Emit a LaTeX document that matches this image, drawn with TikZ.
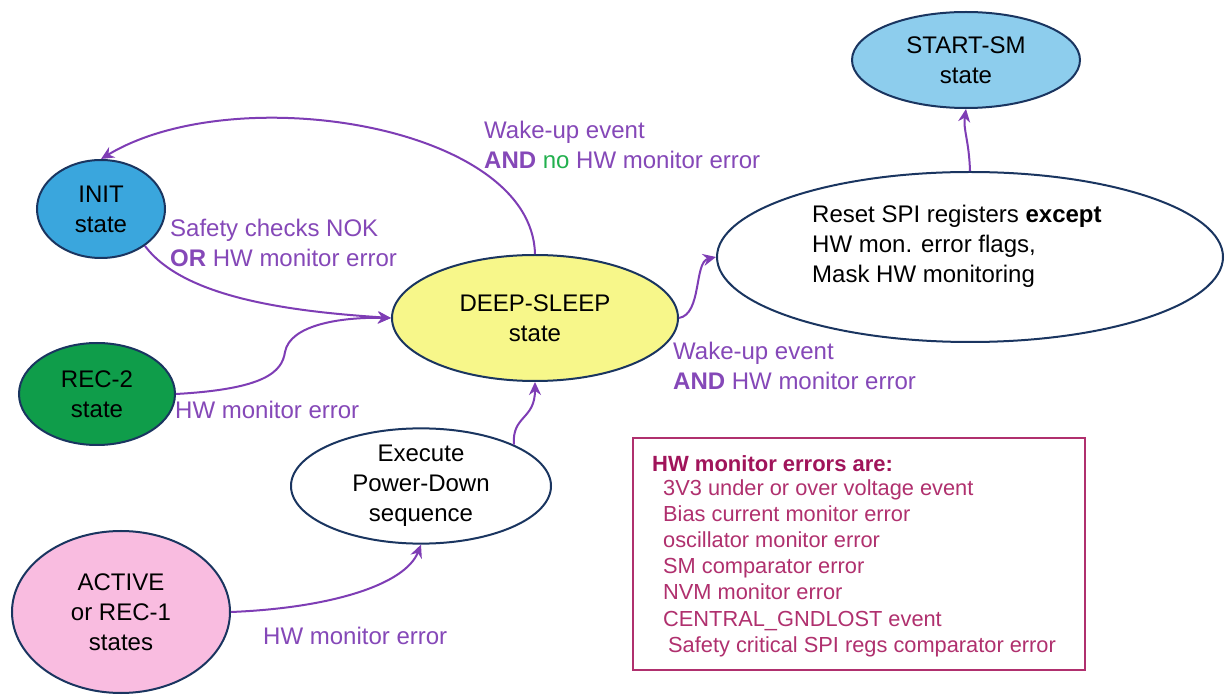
\documentclass[tikz,border=0pt]{standalone}
\usepackage{fontspec}
\setmainfont{Liberation Sans}
\usetikzlibrary{shapes.geometric,arrows.meta}
\definecolor{navy}{HTML}{1A3560}
\definecolor{purp}{HTML}{7E3DB5}
\definecolor{purptxt}{HTML}{8548B8}
\definecolor{grn}{HTML}{22B04E}
\definecolor{initblue}{HTML}{3AA6DD}
\definecolor{smblue}{HTML}{8DCDED}
\definecolor{dsyellow}{HTML}{F7F78A}
\definecolor{recgreen}{HTML}{0F9D4A}
\definecolor{actpink}{HTML}{F9BCE0}
\definecolor{boxmag}{HTML}{B0306E}
\definecolor{headmag}{HTML}{A0145A}
\tikzset{
  statenode/.style={ellipse, draw=navy, line width=2pt, inner sep=0pt, align=center,
     font=\fontsize{24}{30}\selectfont, text=black},
  trans/.style={draw=purp, line width=2pt, -{Stealth[length=13pt,width=12pt]}},
  lbl/.style={anchor=west, inner sep=0pt, align=left, text=purptxt,
     font=\fontsize{24}{30}\selectfont},
  boxtxt/.style={anchor=west, inner sep=0pt, align=left, text=boxmag,
     font=\fontsize{21.8}{26.2}\selectfont}
}
\begin{document}
\begin{tikzpicture}[x=1pt,y=-1pt]
\useasboundingbox[fill=white] (0,0) rectangle (1227,700);

% states
\node[statenode, fill=initblue, minimum width=128pt, minimum height=98pt] (init) at (101,209) {INIT\\state};
\node[statenode, fill=smblue, minimum width=228pt, minimum height=96pt] (start) at (966,60) {START-SM\\state};
\node[statenode, fill=dsyellow, minimum width=286pt, minimum height=126pt] (ds) at (535,318) {DEEP-SLEEP\\state};
\node[statenode, fill=recgreen, minimum width=156pt, minimum height=102pt] (rec) at (97,394) {REC-2\\state};
\node[statenode, fill=white, minimum width=260pt, minimum height=108pt] (exec) at (421,486) {Execute\\Power-Down\\sequence};
\node[statenode, fill=actpink, minimum width=218pt, minimum height=162pt] (act) at (121,612) {ACTIVE\\or REC-1\\states};
\node[statenode, fill=white, minimum width=506pt, minimum height=170pt] (reset) at (970,257) {};
\node[anchor=west, inner sep=0pt, align=left, font=\fontsize{24}{30}\selectfont] (resettxt) at (812,246)
  {Reset SPI registers \textbf{except}\\HW mon. error flags,\\Mask HW monitoring};

% transitions
\draw[trans] (ds.north) .. controls (532,125) and (235,78) .. (init.north);
\draw[trans] (init.-40) .. controls (185,300) and (300,312) .. (ds.west);
\draw[trans] (rec.east) .. controls (265,389) and (282,372) .. (285,352)
   .. controls (290,325) and (340,317) .. (ds.west);
\draw[trans] (act.east) .. controls (330,608) and (405,585) .. (exec.south);
\draw[trans] (exec.24) .. controls (512,415) and (535,420) .. (ds.south);
\draw[trans] (ds.east) .. controls (702,314) and (694,262) .. (reset.west);
\draw[trans] (reset.north) .. controls (969,140) and (963,130) .. (start.south);

% labels
\node[lbl] (l1) at (484,145) {Wake-up event\\\textbf{AND} \textcolor{grn}{no} HW monitor error};
\node[lbl] (l2) at (170,243) {Safety checks NOK\\\textbf{OR} HW monitor error};
\node[lbl] (l3) at (175,410) {HW monitor error};
\node[lbl] (l4) at (673,366) {Wake-up event\\\textbf{AND} HW monitor error};
\node[lbl] (l5) at (263,636) {HW monitor error};

% info box
\node[draw=boxmag, line width=2pt, minimum width=452pt, minimum height=232pt, inner sep=0pt] (box) at (859,554) {};
\node[anchor=west, inner sep=0pt, text=headmag, font=\fontsize{22}{26}\selectfont\bfseries] (boxhead) at (652,464) {HW monitor errors are:};
\node[boxtxt] (boxlist) at (663,568) {3V3 under or over voltage event\\Bias current monitor error\\oscillator monitor error\\SM comparator error\\NVM monitor error\\CENTRAL\_GNDLOST event\\\hspace*{5pt}Safety critical SPI regs comparator error};
\end{tikzpicture}
\end{document}
